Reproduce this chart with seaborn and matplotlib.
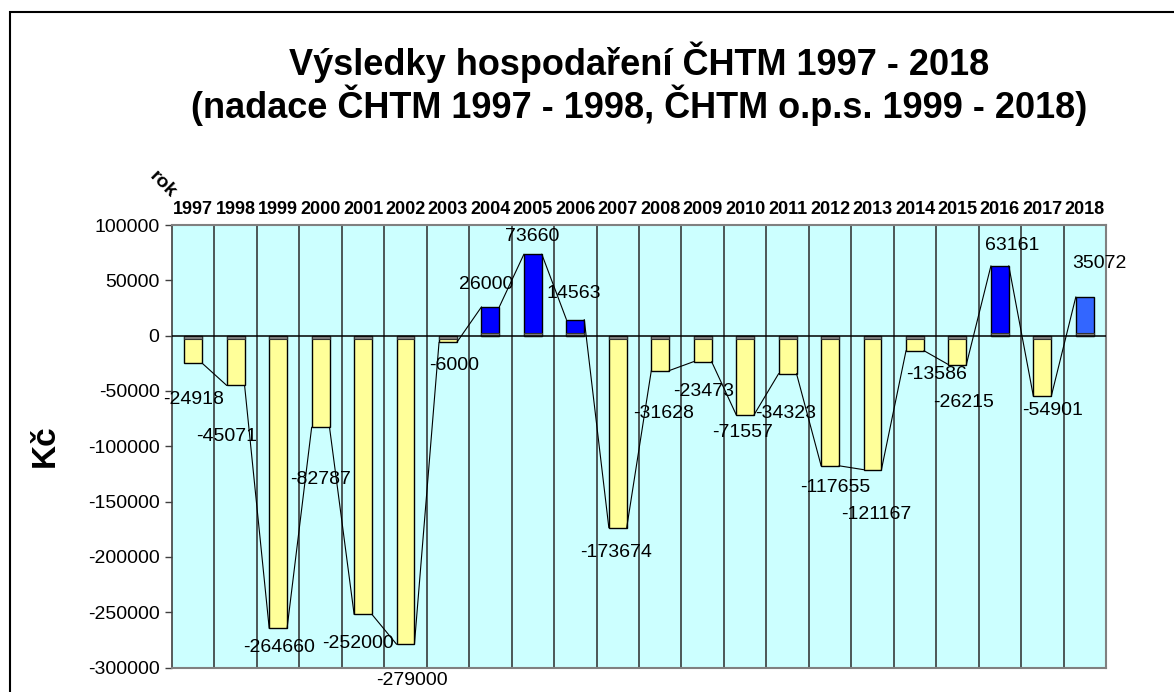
import matplotlib
matplotlib.use("Agg")
import matplotlib.pyplot as plt
import matplotlib.patches as mpatches
import numpy as np
import pandas as pd
import seaborn as sns

# data
years = [str(y) for y in range(1997, 2019)]
values = [-24918, -45071, -264660, -82787, -252000, -279000, -6000, 26000,
          73660, 14563, -173674, -31628, -23473, -71557, -34323, -117655,
          -121167, -13586, -26215, 63161, -54901, 35072]
yticks = [100000, 50000, 0, -50000, -100000, -150000, -200000, -250000, -300000]

title1 = "Výsledky hospodaření ČHTM 1997 - 2018"
title2 = "(nadace ČHTM 1997 - 1998, ČHTM o.p.s. 1999 - 2018)"

# label nudges in pixels (dx, dy) - placed by hand in the original
label_nudge = [(0, -36), (-9, -51), (1, -19), (0, -52), (-5, -29), (6, -36),
               (6, -23), (-4, 22), (-1, 18), (-2, 26), (-2, -25), (3, -43),
               (1, -30), (-3, -18), (-2, -40), (5, -22), (4, -45), (22, -24),
               (6, -38), (12, 20), (10, -14), (15, 33)]

sns.set_style("white")
plt.rcParams['font.family'] = ['Liberation Sans', 'DejaVu Sans']
plt.rcParams['axes.unicode_minus'] = False
plt.rcParams['text.color'] = 'black'
plt.rcParams['xtick.color'] = 'black'
plt.rcParams['ytick.color'] = 'black'

df = pd.DataFrame({'rok': years, 'value': values})
colors = ['#FFFF99' if v < 0 else '#0000FF' for v in values]
colors[-1] = '#3366FF'

fig = plt.figure(figsize=(11.74, 6.92), dpi=100)
ax = fig.add_axes([172/1174, 1 - 667.5/692, (1106-172)/1174, (667.5-225)/692])
ax.set_facecolor('#CCFFFF')

bw = 0.42
sns.barplot(data=df, x='rok', y='value', hue='rok', palette=colors, legend=False,
            width=bw, edgecolor='black', linewidth=1, saturation=1, ax=ax, zorder=3)
# thin grey strip where every bar meets zero
df['strip'] = np.sign(df['value']) * 2600
sns.barplot(data=df, x='rok', y='strip', color='#808080', width=bw,
            edgecolor='#333333', linewidth=0.8, saturation=1, ax=ax, zorder=4)

# series lines joining the bar ends
for i in range(len(values) - 1):
    ax.plot([i + bw/2, i + 1 - bw/2], [values[i], values[i+1]],
            color='black', lw=0.8, zorder=5)

for i in range(len(values) - 1):
    ax.axvline(i + 0.5, color='#2a2a2a', lw=1.1, zorder=2)
ax.axhline(0, color='black', lw=1.1, zorder=6)

for i, v in enumerate(values):
    dx, dy = label_nudge[i]
    ax.annotate(str(v), (i, v), xytext=(dx, dy), textcoords='offset pixels',
                ha='center', va='center', fontsize=14, color='black', zorder=7)

ax.set_xlim(-0.5, len(values) - 0.5)
ax.set_ylim(-300000, 100000)
ax.set_yticks(yticks)
ax.set_yticklabels([str(t) for t in yticks], fontsize=14, color='black')
ax.tick_params(axis='y', length=5, width=1, color='#404040', pad=4, left=True)
ax.xaxis.tick_top()
ax.tick_params(axis='x', length=0, pad=5)
ax.set_xticks(range(len(years)))
ax.set_xticklabels(years, fontsize=13, fontweight='bold', color='black')
ax.set_xlabel('')
ax.set_ylabel('')
for s in ax.spines.values():
    s.set_color('#808080')
    s.set_linewidth(1.5)
ax.spines['left'].set_color('#404040')
ax.spines['left'].set_linewidth(1.2)

fig.text(45/1174, 1 - 446/692, 'Kč', rotation=90, fontsize=24, fontweight='bold',
         ha='center', va='center', color='black')
fig.text(163/1174, 1 - 185/692, 'rok', rotation=-45, fontsize=14, fontweight='bold',
         ha='center', va='center', color='black')
fig.text(639/1174, 1 - 62/692, title1, fontsize=26, fontweight='bold',
         ha='center', va='center', color='black')
fig.text(639/1174, 1 - 105/692, title2, fontsize=26, fontweight='bold',
         ha='center', va='center', color='black')

# outer chart border (runs off the right and bottom edges in the original)
fig.add_artist(mpatches.Rectangle((10/1174, -0.1), 1.2, 1.1 - 12/692,
                                  transform=fig.transFigure, fill=False,
                                  edgecolor='black', lw=1.5))

fig.savefig('out.png', dpi=100)
